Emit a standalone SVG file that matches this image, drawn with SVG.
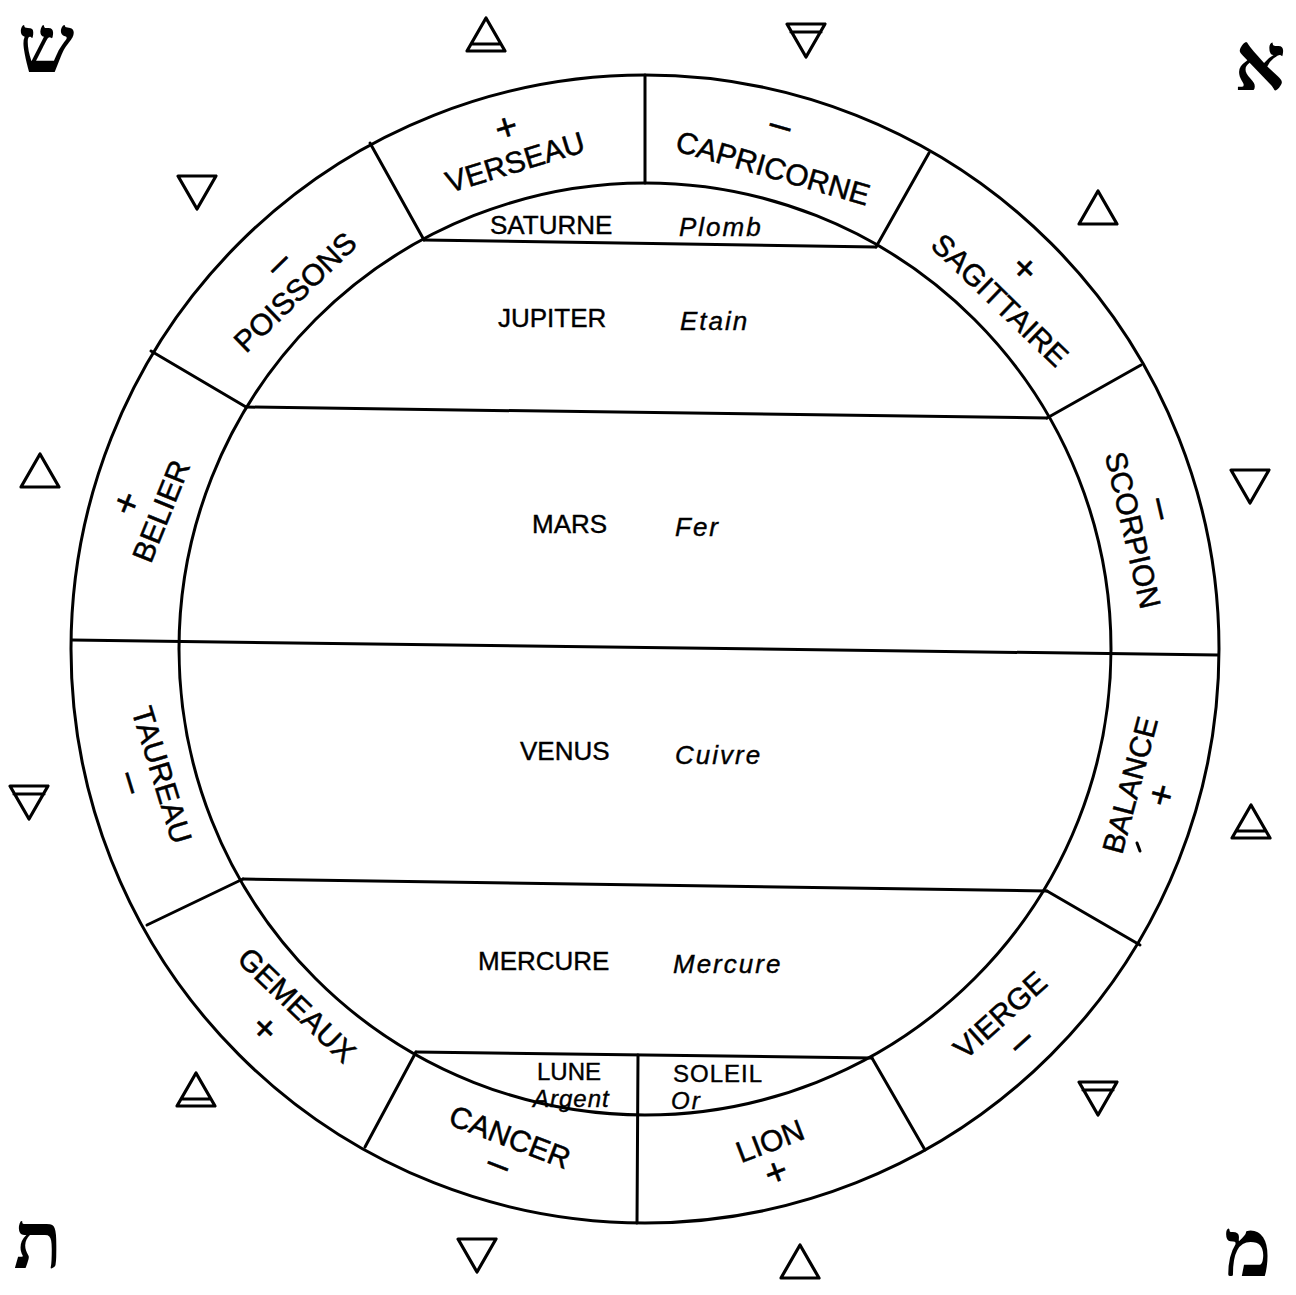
<svg xmlns="http://www.w3.org/2000/svg" width="1296" height="1295" viewBox="0 0 1296 1295">
<style>
.ln{fill:none;stroke:#000;stroke-width:3;stroke-linecap:round}
.tri{fill:none;stroke:#000;stroke-width:3.2;stroke-linejoin:round;stroke-linecap:round}
.z{font-family:"Liberation Sans",Arial,sans-serif;font-size:30px;fill:#000;stroke:#000;stroke-width:0.5;text-anchor:middle;dominant-baseline:central}
.s{font-family:"Liberation Sans",Arial,sans-serif;font-size:38px;fill:#000;stroke:#000;stroke-width:0.6;text-anchor:middle;dominant-baseline:central}
.p{font-family:"Liberation Sans",Arial,sans-serif;font-size:26px;fill:#000;stroke:#000;stroke-width:0.4}
.m{font-family:"Liberation Sans",Arial,sans-serif;font-size:26px;font-style:italic;letter-spacing:2px;fill:#000;stroke:#000;stroke-width:0.4}
.h{font-family:"Liberation Serif","DejaVu Sans",serif;font-size:80px;font-weight:bold;fill:#000;text-anchor:middle}
</style>
<defs>
<g id="up"><path class="tri" d="M0,-17 L19,16 L-19,16 Z"/></g>
<g id="upbar"><path class="tri" d="M0,-17 L19,16 L-19,16 Z M-15,9 L15,9"/></g>
<g id="dn"><path class="tri" d="M0,17 L19,-16 L-19,-16 Z"/></g>
<g id="dnbar"><path class="tri" d="M0,17 L19,-16 L-19,-16 Z M-15,-8 L15,-8"/></g>
</defs>
<rect width="1296" height="1295" fill="#fff"/>

<g id="wheel">
<circle class="ln" cx="645" cy="649" r="574"/>
<circle class="ln" cx="645" cy="649" r="466"/>
</g>

<g id="connectors">
<line class="ln" x1="645" y1="75" x2="645" y2="183"/>
<line class="ln" x1="370" y1="143" x2="424" y2="240"/>
<line class="ln" x1="929" y1="153" x2="876" y2="247"/>
<line class="ln" x1="151" y1="351" x2="246" y2="407"/>
<line class="ln" x1="1141" y1="365" x2="1047" y2="418"/>
<line class="ln" x1="72" y1="640" x2="1218" y2="655"/>
<line class="ln" x1="147" y1="925" x2="243" y2="879"/>
<line class="ln" x1="1047" y1="891" x2="1140" y2="945"/>
<line class="ln" x1="365" y1="1147" x2="416" y2="1052"/>
<line class="ln" x1="925" y1="1150" x2="872" y2="1058"/>
<line class="ln" x1="638" y1="1055" x2="637" y2="1223"/>
<line class="ln" x1="424" y1="240" x2="876" y2="247"/>
<line class="ln" x1="246" y1="407" x2="1047" y2="418"/>
<line class="ln" x1="243" y1="879" x2="1047" y2="891"/>
<line class="ln" x1="416" y1="1052" x2="872" y2="1058"/>
</g>

<g id="saturne"><text class="p" x="490" y="234">SATURNE</text><text class="m" x="679" y="236">Plomb</text></g>
<g id="jupiter"><text class="p" x="498" y="327">JUPITER</text><text class="m" x="680" y="330">Etain</text></g>
<g id="mars"><text class="p" x="532" y="533">MARS</text><text class="m" x="675" y="536">Fer</text></g>
<g id="venus"><text class="p" x="520" y="760">VENUS</text><text class="m" x="675" y="764">Cuivre</text></g>
<g id="mercure"><text class="p" x="478" y="970">MERCURE</text><text class="m" x="673" y="973">Mercure</text></g>
<g id="lune"><text class="p" x="537" y="1080" style="font-size:24px">LUNE</text><text class="m" x="533" y="1107" style="font-size:24px;letter-spacing:1px">Argent</text></g>
<g id="soleil"><text class="p" x="673" y="1082" style="font-size:24px;letter-spacing:1px">SOLEIL</text><text class="m" x="671" y="1109" style="font-size:24px">Or</text></g>

<g id="verseau"><text class="z" transform="translate(515,162) rotate(-17)">VERSEAU</text><text class="s" transform="translate(506,127) rotate(-17)">+</text></g>
<g id="capricorne"><text class="z" transform="translate(773,168) rotate(16)">CAPRICORNE</text><text class="s" transform="translate(781,124) rotate(16)">–</text></g>
<g id="sagittaire"><text class="z" transform="translate(1000,300) rotate(44)">SAGITTAIRE</text><text class="s" transform="translate(1025,268) rotate(44)">+</text></g>
<g id="scorpion"><text class="z" transform="translate(1133,530) rotate(77)">SCORPION</text><text class="s" transform="translate(1163,508) rotate(77)">–</text></g>
<g id="balance"><text class="z" transform="translate(1130,785) rotate(-75)">BALANCE</text><text class="s" transform="translate(1161,795) rotate(-75)">+</text><path class="ln" d="M1137,843 L1140,851" stroke-width="2.5"/></g>
<g id="vierge"><text class="z" transform="translate(1000,1015) rotate(-42)">VIERGE</text><text class="s" transform="translate(1020,1040) rotate(-42)">–</text></g>
<g id="lion"><text class="z" transform="translate(770,1141) rotate(-21)">LION</text><text class="s" transform="translate(776,1172) rotate(-21)">+</text></g>
<g id="cancer"><text class="z" transform="translate(510,1137) rotate(21)">CANCER</text><text class="s" transform="translate(499,1163) rotate(21)">–</text></g>
<g id="gemeaux"><text class="z" transform="translate(297,1005) rotate(44)">GEMEAUX</text><text class="s" transform="translate(265,1028) rotate(44)">+</text></g>
<g id="taureau"><text class="z" transform="translate(162,775) rotate(73)">TAUREAU</text><text class="s" transform="translate(133,782) rotate(73)">–</text></g>
<g id="belier"><text class="z" transform="translate(161,511) rotate(-68)">BELIER</text><text class="s" transform="translate(126,503) rotate(-68)">+</text></g>
<g id="poissons"><text class="z" transform="translate(295,292) rotate(-44)">POISSONS</text><text class="s" transform="translate(277,262) rotate(-44)">–</text></g>

<g id="elements">
<use href="#upbar" x="486" y="35"/>
<use href="#dnbar" x="806" y="40"/>
<use href="#dn" x="197" y="192"/>
<use href="#up" x="1098" y="208"/>
<use href="#up" x="40" y="471"/>
<use href="#dn" x="1250" y="486"/>
<use href="#dnbar" x="29" y="802"/>
<use href="#upbar" x="1251" y="822"/>
<use href="#upbar" x="196" y="1090"/>
<use href="#dnbar" x="1098" y="1098"/>
<use href="#dn" x="477" y="1255"/>
<use href="#up" x="800" y="1262"/>
</g>

<g id="letters">
<text class="h" x="46" y="72">ש</text>
<text class="h" x="1260" y="90">א</text>
<text class="h" x="38" y="1268">ת</text>
<text class="h" x="1248" y="1276">מ</text>
</g>
</svg>
